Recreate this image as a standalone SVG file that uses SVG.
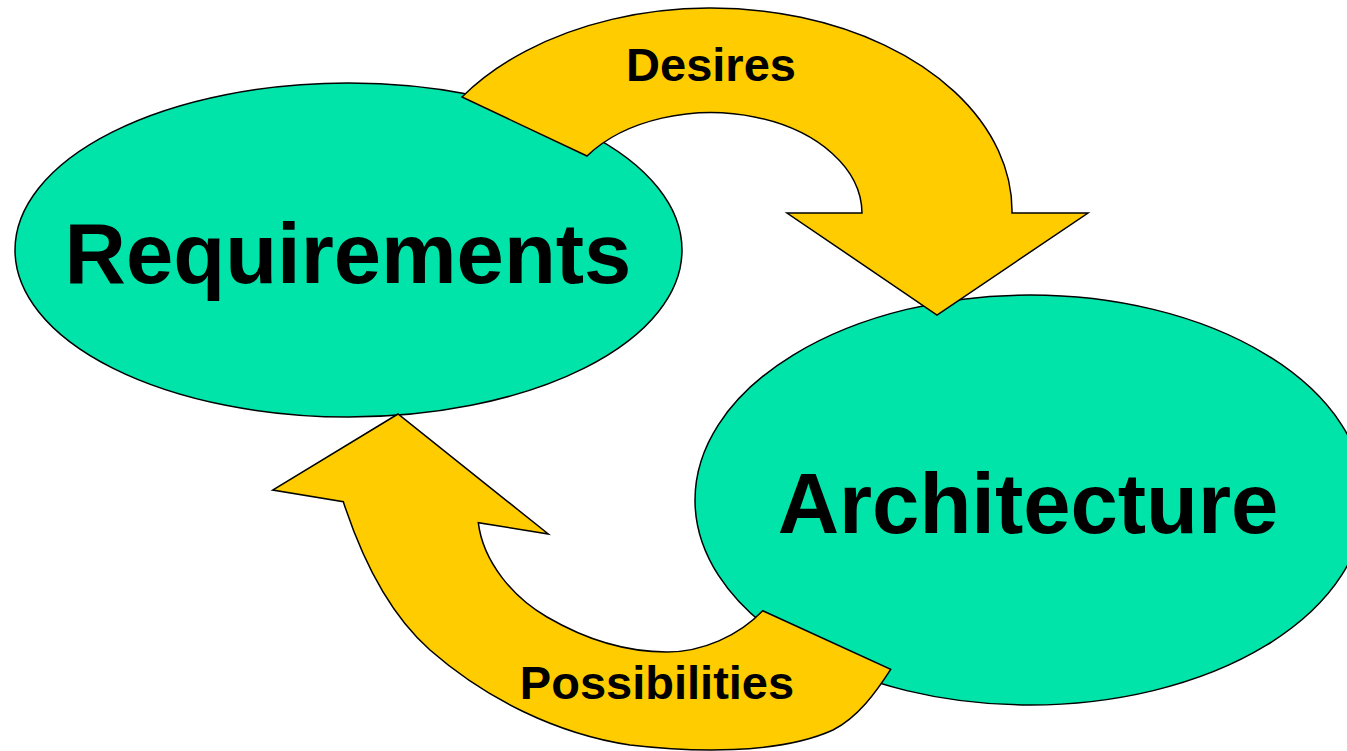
<svg xmlns="http://www.w3.org/2000/svg" width="1347" height="751" viewBox="0 0 1347 751">
<style>
.node{fill:#00E4AA;stroke:#000;stroke-width:1.5}
.arrow{fill:#FFCC00;stroke:#000;stroke-width:1.5;stroke-linejoin:miter}
.big{font-family:"Liberation Sans",Arial,sans-serif;font-weight:bold;font-size:85px;fill:#000;text-anchor:middle}
.lbl{font-family:"Liberation Sans",Arial,sans-serif;font-weight:bold;font-size:47px;fill:#000;text-anchor:middle}
</style>
<rect width="1347" height="751" fill="#fff"/>
<g id="requirements">
<ellipse class="node" cx="348.5" cy="250" rx="333.5" ry="167"/>
<text class="big" x="348" y="283">Requirements</text>
</g>
<g id="architecture">
<ellipse class="node" cx="1030" cy="500" rx="335" ry="205"/>
<text class="big" x="1028" y="533">Architecture</text>
</g>
<g id="connectors">
<g id="desires">
<path class="arrow" d="M 462 97 A 301 203 0 0 1 1012 213 L 1088 213 L 937 315 L 787 213 L 862 213 A 151 101 0 0 0 587 156 Z"/>
<text class="lbl" x="711" y="81" font-size="46">Desires</text>
</g>
<g id="possibilities">
<path class="arrow" d="M 398 414 L 272.7 490 L 343.3 501.7 C 361 556 387 612 430 650 C 486 699 557 734 630 745 C 690 752 778 755 833 730 C 858 717 875.5 693 890.7 669.3 L 762.7 610.7 C 738.5 636 702 652 667 652 C 625 652 583 638 547 617 C 513 597.5 483 561.6 478.3 522.7 L 548.3 534 Z"/>
<text class="lbl" x="657" y="699">Possibilities</text>
</g>
</g>
</svg>
